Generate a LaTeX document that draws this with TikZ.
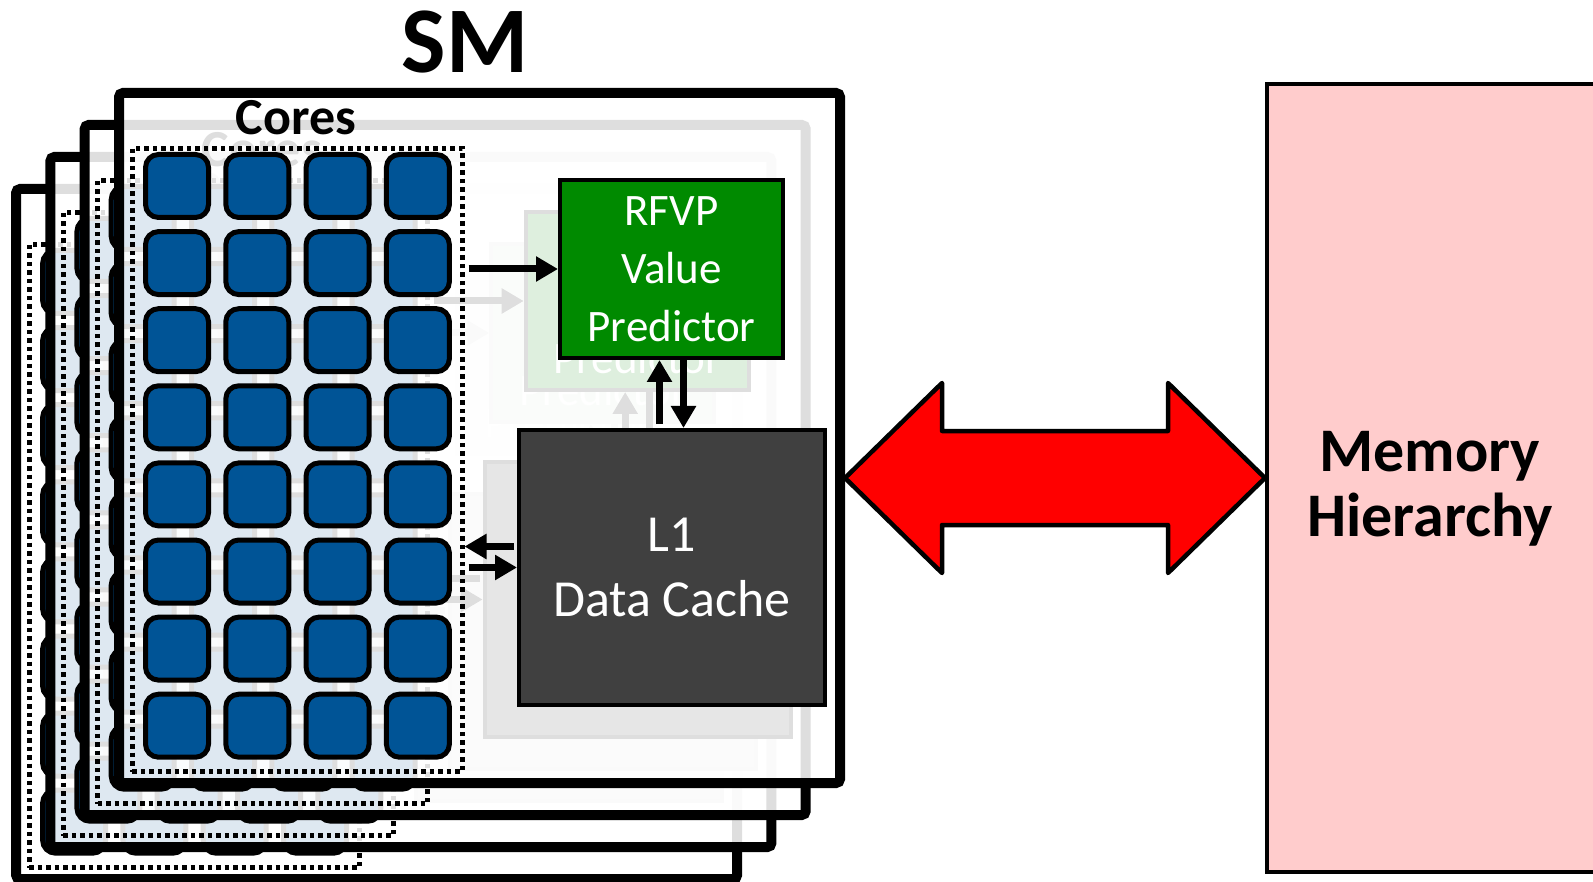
\documentclass[tikz,border=0pt]{standalone}
\usepackage{fontspec}
\setmainfont{Carlito}
\usetikzlibrary{arrows.meta,calc}
\definecolor{coreblue}{RGB}{0,84,150}
\definecolor{rfvpgreen}{RGB}{0,138,0}
\definecolor{cachegray}{RGB}{64,64,64}
\definecolor{mempink}{RGB}{255,204,204}
\begin{document}
\begin{tikzpicture}[x=1pt,y=-1pt,
  smframe/.style={draw=black, line width=10pt, rounded corners=4pt, fill=white,
    fill opacity=0.87, minimum width=721pt, minimum height=690pt, inner sep=0pt},
  corebox/.style={draw=black, line width=5pt, dash pattern=on 4.5pt off 4pt,
    minimum width=330pt, minimum height=623pt, inner sep=0pt},
  core/.style={draw=black, line width=5pt, fill=coreblue, rounded corners=13pt,
    minimum size=63pt, inner sep=0pt},
  unitbox/.style={draw=black, line width=4pt, inner sep=0pt, text=white, align=center},
  arr/.style={line width=7pt, -{Triangle[length=22pt,width=24pt]}},
  bigarrow/.style={draw=black, line width=4.5pt, line join=round, fill=red},
]
\useasboundingbox (0,0) rectangle (1593,882);

% stacked SMs, drawn from the back one to the front one
\foreach \l in {3,2,1,0}{
  \begin{scope}[shift={(-34.3*\l,32*\l)}]
    \node[smframe] (frame\l) at (479.5,438) {};
    \node[corebox] (cores\l) at (297,460) {};
    \foreach \i in {0,...,3}{
      \foreach \j in {0,...,7}{
        \node[core] (core\l-\i-\j) at (177+80.3*\i,186+77.1*\j) {};
      }
    }
    \node[font=\bfseries\fontsize{52}{52}\selectfont, anchor=base] (coreslabel\l) at (296,135) {Cores};
    \node[unitbox, fill=rfvpgreen, minimum width=223pt, minimum height=178pt,
      font=\fontsize{45}{58}\selectfont] (rfvp\l) at (671.5,269) {RFVP\\Value\\Predictor};
    \node[unitbox, fill=cachegray, minimum width=306pt, minimum height=275pt,
      font=\fontsize{52}{65}\selectfont] (l1\l) at (672,567.5) {L1\\Data Cache};
    % cores to predictor
    \draw[arr] ($(cores\l.east |- rfvp\l.west)+(4,0)$) -- (rfvp\l.west);
    % predictor <-> L1
    \draw[arr] ($(rfvp\l.south |- l1\l.north)+(-12,-4)$) -- ($(rfvp\l.south)+(-12,0)$);
    \draw[arr] ($(rfvp\l.south)+(12,0)$) -- ($(rfvp\l.south |- l1\l.north)+(12,0)$);
    % L1 <-> cores
    \draw[arr] ($(l1\l.west)+(-3,-21)$) -- ($(cores\l.east |- l1\l.west)+(0,-21)$);
    \draw[arr] ($(cores\l.east |- l1\l.west)+(4,0)$) -- (l1\l.west);
  \end{scope}
}

\node[font=\bfseries\fontsize{94}{94}\selectfont, anchor=base] (smlabel) at (465,73) {SM};

% memory hierarchy
\node[draw=black, line width=4pt, fill=mempink, minimum width=330pt, minimum height=788pt,
  inner sep=0pt] (mem) at (1432,478) {};
\node[align=center, font=\bfseries\fontsize{62}{65}\selectfont] (memtext) at (1430,489) {Memory\\Hierarchy};

% SM <-> memory link
\coordinate (aL) at (frame0.east |- mem.west);
\coordinate (aR) at (mem.west);
\draw[bigarrow] (aL) -- ($(aL)+(97,-95)$) -- ($(aL)+(97,-47)$) -- ($(aR)+(-97,-47)$)
  -- ($(aR)+(-97,-95)$) -- (aR) -- ($(aR)+(-97,95)$) -- ($(aR)+(-97,47)$)
  -- ($(aL)+(97,47)$) -- ($(aL)+(97,95)$) -- cycle;
\end{tikzpicture}
\end{document}
